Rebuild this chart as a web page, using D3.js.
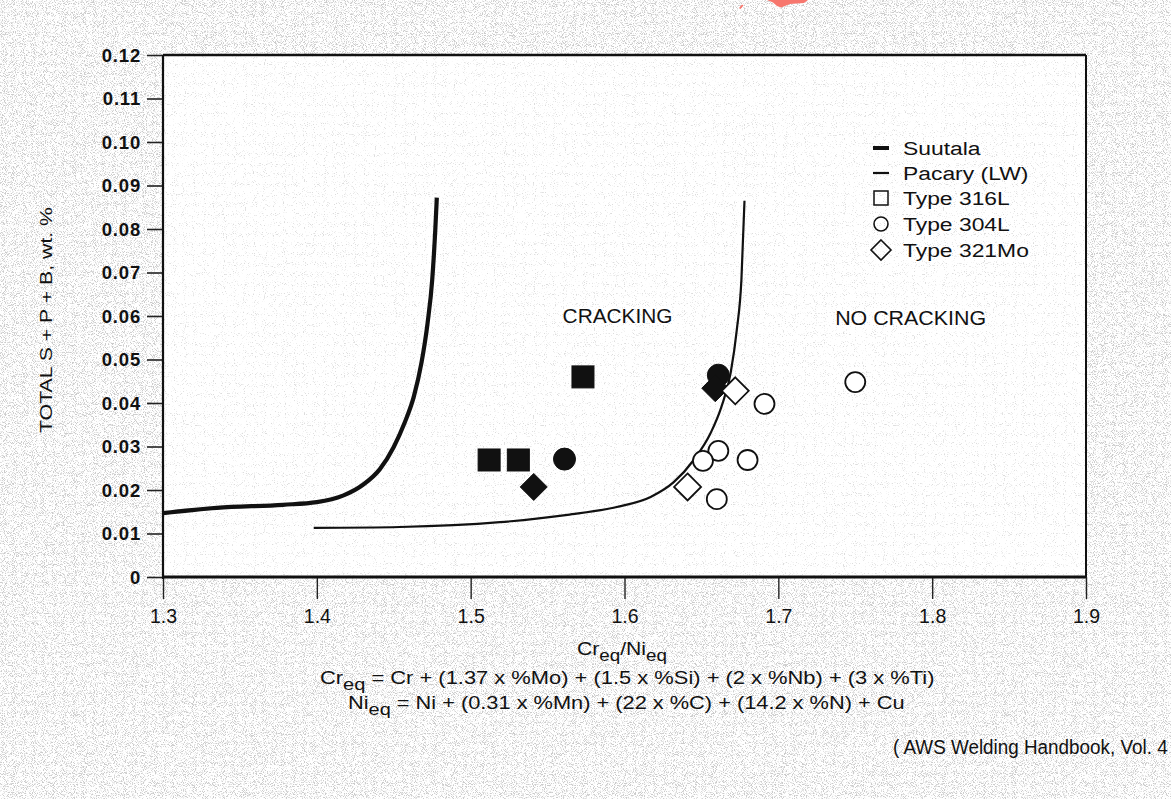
<!DOCTYPE html>
<html>
<head>
<meta charset="utf-8">
<script src="https://cdn.jsdelivr.net/npm/d3@7"></script>
<style>
  html, body { margin: 0; padding: 0; background: #fff; }
  svg { display: block; }
  text { font-family: "Liberation Sans", Arial, Helvetica, sans-serif; fill: #111; }
</style>
</head>
<body>
<svg id="chart" width="1171" height="799"></svg>
<script>
// ---------------- DATA ----------------
const xTicks = [1.3, 1.4, 1.5, 1.6, 1.7, 1.8, 1.9];
const xTickLabels = ["1.3", "1.4", "1.5", "1.6", "1.7", "1.8", "1.9"];
const yTicks = [0, 0.01, 0.02, 0.03, 0.04, 0.05, 0.06, 0.07, 0.08, 0.09, 0.10, 0.11, 0.12];
const yTickLabels = ["0", "0.01", "0.02", "0.03", "0.04", "0.05", "0.06", "0.07", "0.08", "0.09", "0.10", "0.11", "0.12"];

// Suutala boundary (thick)
const suutalaX = [1.300, 1.335, 1.378, 1.400, 1.417, 1.430, 1.441, 1.450, 1.457, 1.463, 1.468, 1.472, 1.475, 1.477, 1.478];
const suutalaY = [0.0147, 0.0159, 0.0166, 0.0172, 0.0187, 0.0212, 0.0248, 0.0299, 0.0354, 0.0414, 0.0492, 0.0584, 0.0683, 0.0798, 0.0872];

// Pacary (LW) boundary (thin)
const pacaryX = [1.398, 1.454, 1.519, 1.563, 1.595, 1.617, 1.632, 1.645, 1.656, 1.663, 1.669, 1.673, 1.676, 1.678];
const pacaryY = [0.0113, 0.0115, 0.0126, 0.0143, 0.0161, 0.0184, 0.0218, 0.0269, 0.0331, 0.0391, 0.0469, 0.0568, 0.0683, 0.0865];

// Type 316L (squares)
const t316X = [1.512, 1.531, 1.573];
const t316Y = [0.0269, 0.0269, 0.0460];
const t316Filled = [true, true, true];

// Type 304L (circles)
const t304X = [1.561, 1.661, 1.691, 1.750, 1.661, 1.651, 1.680, 1.660];
const t304Y = [0.0271, 0.0464, 0.0398, 0.0448, 0.0290, 0.0267, 0.0269, 0.0179];
const t304Filled = [true, true, false, false, false, false, false, false];

// Type 321Mo (diamonds)
const t321X = [1.541, 1.659, 1.672, 1.641];
const t321Y = [0.0207, 0.0434, 0.0428, 0.0207];
const t321Filled = [true, true, false, false];

const legendLabels = ["Suutala", "Pacary (LW)", "Type 316L", "Type 304L", "Type 321Mo"];
const regionLabels = ["CRACKING", "NO CRACKING"];
const regionX = [1.5955, 1.786];
const regionY = [0.0585, 0.0580];

// ---------------- CHART ----------------
(function () {
const svg = d3.select("#chart");
const W = 1171, H = 799;
const mLeft = 163, mRight = 1086, mTop = 55, mBottom = 577;

const x = d3.scaleLinear().domain([1.3, 1.9]).range([mLeft, mRight]);
const y = d3.scaleLinear().domain([0, 0.12]).range([mBottom, mTop]);

function hScale(sel, s, ax) {
  sel.attr("transform", `translate(${ax},0) scale(${s},1) translate(${-ax},0)`);
}
// horizontally stretch/compress a text so that it spans `target` px, about anchor ax
function fitWidth(sel, target, ax) {
  const w = sel.node().getBBox().width;
  if (w > 0) hScale(sel, target / w, ax);
}

// scanned-paper speckle
const defs = svg.append("defs");
const fOut = defs.append("filter").attr("id", "speckleOut").attr("x", 0).attr("y", 0).attr("width", 1).attr("height", 1);
fOut.append("feTurbulence").attr("type", "fractalNoise").attr("baseFrequency", 1.1).attr("numOctaves", 1).attr("seed", 7);
fOut.append("feColorMatrix").attr("type", "matrix")
  .attr("values", "0 0 0 0 0.4  0 0 0 0 0.4  0 0 0 0 0.4  7 0 0 0 -3.55");
const fIn = defs.append("filter").attr("id", "speckleIn").attr("x", 0).attr("y", 0).attr("width", 1).attr("height", 1);
fIn.append("feTurbulence").attr("type", "fractalNoise").attr("baseFrequency", 1.1).attr("numOctaves", 1).attr("seed", 11);
fIn.append("feColorMatrix").attr("type", "matrix")
  .attr("values", "0 0 0 0 0.45  0 0 0 0 0.45  0 0 0 0 0.45  7 0 0 0 -4.2");

svg.append("rect").attr("width", W).attr("height", H).attr("fill", "#fff");
svg.append("rect").attr("width", W).attr("height", H).attr("filter", "url(#speckleOut)").attr("opacity", 0.6);
svg.append("rect").attr("x", mLeft).attr("y", mTop).attr("width", mRight - mLeft).attr("height", mBottom - mTop).attr("fill", "#fff");
svg.append("rect").attr("x", mLeft).attr("y", mTop).attr("width", mRight - mLeft).attr("height", mBottom - mTop)
  .attr("filter", "url(#speckleIn)").attr("opacity", 0.45);

// red watermark fragment at top
svg.append("path")
  .attr("d", "M739,8 L742,4.5 L743.5,5.5 L740.5,9 Z M767,0 L808,0 L804,3 L790,4 L781,7.5 L777,6 L773,2.5 Z")
  .attr("fill", "#f7776e");

// axes
const yAxis = d3.axisLeft(y).tickValues(yTicks).tickSize(16).tickPadding(6)
  .tickFormat((d, i) => yTickLabels[i]);
const gy = svg.append("g").attr("transform", `translate(${mLeft},0)`).call(yAxis);
gy.select(".domain").remove();
gy.selectAll(".tick line").attr("stroke", "#222").attr("stroke-width", 1.6);
gy.selectAll(".tick text").attr("font-size", 18.5).attr("font-family", "'Liberation Sans', Arial, sans-serif")
  .attr("fill", "#1a1a1a").attr("font-weight", "bold").attr("letter-spacing", 0.8).attr("dy", "0.35em");

const xAxis = d3.axisBottom(x).tickValues(xTicks).tickSize(22).tickPadding(10)
  .tickFormat((d, i) => xTickLabels[i]);
const gx = svg.append("g").attr("transform", `translate(0,${mBottom})`).call(xAxis);
gx.select(".domain").remove();
gx.selectAll(".tick line").attr("stroke", "#222").attr("stroke-width", 1.4);
gx.selectAll(".tick text").attr("font-size", 19.5).attr("font-family", "'Liberation Sans', Arial, sans-serif")
  .attr("fill", "#1a1a1a");

// frame
svg.append("line").attr("x1", mLeft).attr("x2", mLeft).attr("y1", mTop).attr("y2", mBottom + 2)
  .attr("stroke", "#111").attr("stroke-width", 2.2);
svg.append("line").attr("x1", mLeft).attr("x2", mRight).attr("y1", mBottom).attr("y2", mBottom)
  .attr("stroke", "#111").attr("stroke-width", 3);
svg.append("line").attr("x1", mLeft).attr("x2", mRight).attr("y1", mTop).attr("y2", mTop)
  .attr("stroke", "#111").attr("stroke-width", 2.4);
svg.append("line").attr("x1", mRight).attr("x2", mRight).attr("y1", mTop).attr("y2", mBottom)
  .attr("stroke", "#111").attr("stroke-width", 2);

// curves
const line = d3.line().x(d => x(d[0])).y(d => y(d[1])).curve(d3.curveMonotoneX);
svg.append("path").datum(d3.zip(suutalaX, suutalaY)).attr("d", line)
  .attr("fill", "none").attr("stroke", "#111").attr("stroke-width", 4.2).attr("stroke-linecap", "butt");
svg.append("path").datum(d3.zip(pacaryX, pacaryY)).attr("d", line)
  .attr("fill", "none").attr("stroke", "#111").attr("stroke-width", 2.2);

// markers
function drawPoints(xs, ys, filled, kind) {
  const pts = d3.zip(xs, ys, filled);
  const g = svg.append("g");
  pts.forEach(p => {
    const cx = x(p[0]), cy = y(p[1]);
    const fill = p[2] ? "#111" : "#fff";
    const sw = p[2] ? 1 : 1.8;
    if (kind === "square") {
      g.append("rect").attr("x", cx - 11).attr("y", cy - 11).attr("width", 22).attr("height", 22)
        .attr("fill", fill).attr("stroke", "#111").attr("stroke-width", sw);
    } else if (kind === "circle") {
      g.append("circle").attr("cx", cx).attr("cy", cy).attr("r", p[2] ? 11 : 10)
        .attr("fill", fill).attr("stroke", "#111").attr("stroke-width", sw);
    } else {
      const r = 13.5;
      g.append("path").attr("d", `M${cx},${cy - r}L${cx + r},${cy}L${cx},${cy + r}L${cx - r},${cy}Z`)
        .attr("fill", fill).attr("stroke", "#111").attr("stroke-width", sw);
    }
  });
}
drawPoints(t316X, t316Y, t316Filled, "square");
drawPoints(t304X, t304Y, t304Filled, "circle");
drawPoints(t321X, t321Y, t321Filled, "diamond");

// region labels
const regionW = [110, 151];
regionLabels.forEach((t, i) => {
  const tx = svg.append("text").attr("x", x(regionX[i])).attr("y", y(regionY[i])).attr("text-anchor", "middle")
    .attr("font-size", 20).text(t);
  fitWidth(tx, regionW[i], x(regionX[i]));
});

// legend (uniform font; scale derived from the longest entry)
const lgX = 881, lgTx = 903;
const lgY = [148, 173, 198, 224, 250];
const lg = svg.append("g");
lg.append("line").attr("x1", lgX - 8).attr("x2", lgX + 8).attr("y1", lgY[0]).attr("y2", lgY[0]).attr("stroke", "#111").attr("stroke-width", 4);
lg.append("line").attr("x1", lgX - 8).attr("x2", lgX + 8).attr("y1", lgY[1]).attr("y2", lgY[1]).attr("stroke", "#111").attr("stroke-width", 2.2);
lg.append("rect").attr("x", lgX - 7).attr("y", lgY[2] - 7).attr("width", 14).attr("height", 14)
  .attr("fill", "none").attr("stroke", "#111").attr("stroke-width", 1.5);
lg.append("circle").attr("cx", lgX).attr("cy", lgY[3]).attr("r", 7)
  .attr("fill", "none").attr("stroke", "#111").attr("stroke-width", 1.6);
lg.append("path").attr("d", `M${lgX},${lgY[4] - 10}L${lgX + 10},${lgY[4]}L${lgX},${lgY[4] + 10}L${lgX - 10},${lgY[4]}Z`)
  .attr("fill", "none").attr("stroke", "#111").attr("stroke-width", 1.6);
const lgTexts = legendLabels.map((t, i) =>
  lg.append("text").attr("x", lgTx).attr("y", lgY[i]).attr("dy", "0.35em").attr("font-size", 19).text(t));
const lgScale = 126 / lgTexts[4].node().getBBox().width;
lgTexts.forEach(tx => hScale(tx, lgScale, lgTx));

// y axis title
svg.append("text").attr("transform", "translate(52,320) rotate(-90)").attr("text-anchor", "middle")
  .attr("font-size", 17).attr("textLength", 226).attr("lengthAdjust", "spacingAndGlyphs")
  .text("TOTAL S + P + B, wt. %");

// x axis title and formulas
const xt = svg.append("text").attr("x", 622).attr("y", 655).attr("text-anchor", "middle").attr("font-size", 18);
xt.append("tspan").text("Cr");
xt.append("tspan").attr("dy", 6).attr("font-size", 16).text("eq");
xt.append("tspan").attr("dy", -6).text("/Ni");
xt.append("tspan").attr("dy", 6).attr("font-size", 16).text("eq");
fitWidth(xt, 90, 622);

const f1 = svg.append("text").attr("x", 320).attr("y", 684).attr("font-size", 17.5);
f1.append("tspan").text("Cr");
f1.append("tspan").attr("dy", 6).attr("font-size", 16).text("eq");
f1.append("tspan").attr("dy", -6).text(" = Cr + (1.37 x %Mo) + (1.5 x %Si) + (2 x %Nb) + (3 x %Ti)");
fitWidth(f1, 615, 320);

const f2 = svg.append("text").attr("x", 348).attr("y", 709).attr("font-size", 17.5);
f2.append("tspan").text("Ni");
f2.append("tspan").attr("dy", 6).attr("font-size", 16).text("eq");
f2.append("tspan").attr("dy", -6).text(" = Ni + (0.31 x %Mn) + (22 x %C) + (14.2 x %N) + Cu");
fitWidth(f2, 557, 348);

// source line
const src = svg.append("text").attr("x", 893).attr("y", 754).attr("font-size", 21).text("( AWS Welding Handbook, Vol. 4");
fitWidth(src, 275, 893);
})();
</script>
</body>
</html>
